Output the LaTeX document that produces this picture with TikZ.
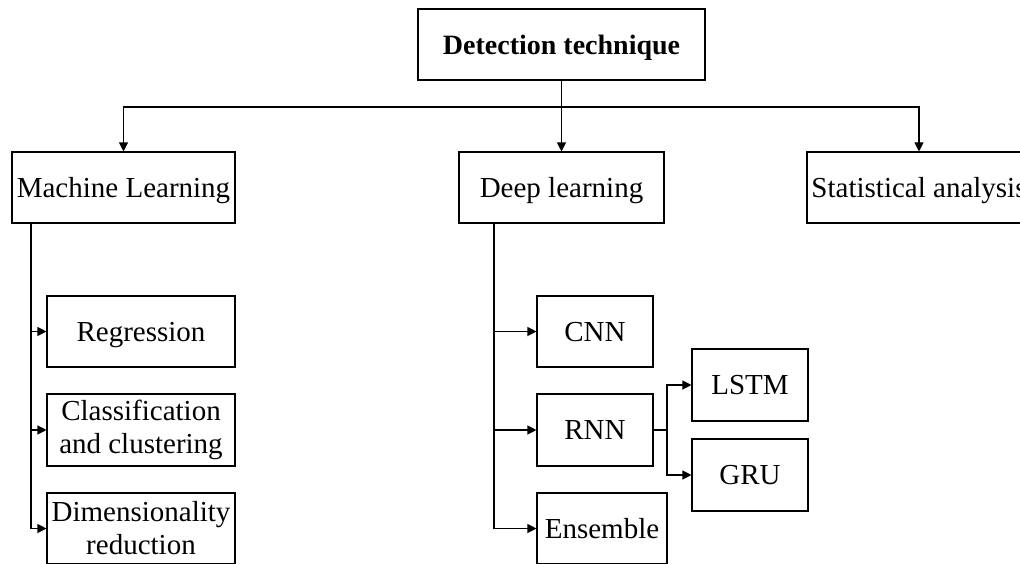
\documentclass[tikz,border=0pt]{standalone}
\usepackage{fontspec}
\setmainfont{Liberation Serif}
\usetikzlibrary{arrows.meta}
\tikzset{
  box/.style={draw, line width=1.1pt, rectangle, minimum height=71pt, inner sep=0pt, align=center, font=\fontsize{29}{33}\selectfont},
  one/.style={text height=19pt, text depth=0pt},
  arr/.style={line width=1.1pt, -{Triangle[length=9pt,width=9pt]}},
  ln/.style={line width=1.1pt}
}
\begin{document}
\begin{tikzpicture}[x=1pt,y=-1pt]
\clip (0,0) rectangle (1020,563);
\fill[white] (0,0) rectangle (1020,563);
\node[box, one, minimum width=287pt, font=\fontsize{28}{33}\selectfont\bfseries] (det) at (561.5,44.5) {Detection technique};
\node[box, one, minimum width=223pt] (ml) at (123.5,187.5) {Machine Learning};
\node[box, one, minimum width=205pt] (dl) at (561.5,187.5) {Deep learning};
\node[box, one, minimum width=224pt] (sa) at (919,187.5) {Statistical analysis};
\node[box, one, minimum width=188pt] (reg) at (141,331.5) {Regression};
\node[box, minimum width=188pt, minimum height=72pt] (cls) at (141,430) {Classification\\and clustering};
\node[box, minimum width=188pt] (dim) at (141,528.5) {Dimensionality\\reduction};
\node[box, one, minimum width=116pt] (cnn) at (595,331.5) {CNN};
\node[box, one, minimum width=116pt, minimum height=72pt] (rnn) at (595,430) {RNN};
\node[box, one, minimum width=130pt] (ens) at (602,528.5) {Ensemble};
\node[box, one, minimum width=116pt, minimum height=72pt] (lstm) at (750,385) {LSTM};
\node[box, one, minimum width=116pt, minimum height=72pt] (gru) at (750,475) {GRU};
% top tree
\coordinate (bar) at (561.5,107);
\draw[arr] (det.south) -- (dl.north);
\draw[arr] (bar) -| (ml.north);
\draw[arr] (bar) -| (sa.north);
% machine learning trunk
\coordinate (mlt) at (31,223);
\draw[arr] (mlt) |- (reg.west);
\draw[arr] (mlt) |- (cls.west);
\draw[arr] (mlt) |- (dim.west);
% deep learning trunk
\coordinate (dlt) at (494,223);
\draw[arr] (dlt) |- (cnn.west);
\draw[arr] (dlt) |- (rnn.west);
\draw[arr] (dlt) |- (ens.west);
% rnn branch
\coordinate (rb) at (667,430);
\draw[ln] (rnn.east) -- (rb);
\draw[arr] (rb) |- (lstm.west);
\draw[arr] (rb) |- (gru.west);
\end{tikzpicture}
\end{document}
